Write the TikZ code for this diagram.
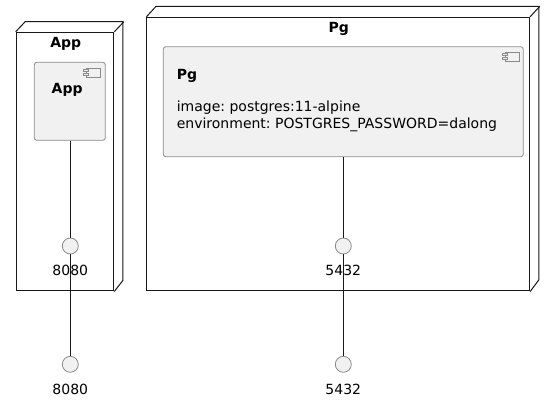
\documentclass[tikz,border=0pt]{standalone}
\usepackage{fontspec}
\setmainfont{DejaVu Sans}
\usetikzlibrary{positioning}
\definecolor{compfill}{HTML}{F1F1F1}
\definecolor{compline}{HTML}{8A8A8A}
\definecolor{darkline}{HTML}{181818}
\frenchspacing

\begin{document}
\begin{tikzpicture}[
    x=1pt, y=-1pt,
    every node/.style={inner sep=0pt, font=\fontsize{14}{16.3}\selectfont},
    devbox/.style={draw=darkline, line width=1pt},
    comp/.style={draw=compline, fill=compfill, line width=0.8pt, rounded corners=2.5pt},
    port/.style={circle, draw=compline, fill=compfill, line width=0.8pt, minimum size=16pt},
    bold/.style={font=\fontsize{14}{16.3}\selectfont\bfseries},
    link/.style={draw=darkline, line width=1pt},
    icon/.pic={ % kleines Komponenten-Symbol
        \draw[compline, fill=compfill, line width=0.6pt] (-14.3,0) rectangle (0,9);
        \draw[compline, fill=compfill, line width=0.6pt] (-17,1.7) rectangle (-12,3.7);
        \draw[compline, fill=compfill, line width=0.6pt] (-17,5.7) rectangle (-12,7.7);
    }
]
\useasboundingbox[fill=white] (0,0) rectangle (555,401);

% Knoten App
\node[devbox, minimum width=97.7pt, minimum height=258.7pt] (appnode) at (65,161.6) {};
\draw[devbox] (appnode.north west) -- ++(9.5,-10) -- ++(97.7,0) -- ++(0,258.7) -- (appnode.south east);
\draw[devbox] (appnode.north east) -- ++(9.5,-10);
\node[bold, anchor=base] (apptitle) at (65.7,47.7) {App};

\node[comp, minimum width=71pt, minimum height=78pt] (appcomp) at (69.8,101.3) {};
\pic at ([xshift=-5pt, yshift=-6pt]appcomp.north east) {icon};
\node[bold, anchor=base west] (appname) at (51.5,94) {App};

% Knoten Pg
\node[devbox, minimum width=382.7pt, minimum height=273.7pt] (pgnode) at (338.3,154.15) {};
\draw[devbox] (pgnode.north west) -- ++(9.6,-10.5) -- ++(382.7,0) -- ++(0,273.7) -- (pgnode.south east);
\draw[devbox] (pgnode.north east) -- ++(9.6,-10.5);
\node[bold, anchor=base] (pgtitle) at (338.8,32.3) {Pg};

\node[comp, minimum width=360pt, minimum height=110pt] (pgcomp) at (343.3,101.7) {};
\pic at ([xshift=-4.6pt, yshift=-5.6pt]pgcomp.north east) {icon};
\node[bold, anchor=base west] (pgname) at (176.6,80) {Pg};
\node[anchor=base west, align=left] (pgimage) at (176.6,112) {image: postgres:11-alpine};
\node[anchor=base west, align=left] (pgenv) at (176.6,128.3) {environment: POSTGRES\_PASSWORD=dalong};

% Ports
\node[port] (appport) at (70.3,246) {};
\node[anchor=base] (appportlbl) at (70.3,276) {8080};
\node[port] (appext) at (70.3,364.3) {};
\node[anchor=base] (appextlbl) at (70.3,394.3) {8080};

\node[port] (pgport) at (343.3,246) {};
\node[anchor=base] (pgportlbl) at (343.3,276) {5432};
\node[port] (pgext) at (343.3,364.3) {};
\node[anchor=base] (pgextlbl) at (343.3,394.3) {5432};

% Verbindungen
\draw[link] (appcomp.south -| appport) -- (appport);
\draw[link] (appport) -- (appext);
\draw[link] (pgcomp.south -| pgport) -- (pgport);
\draw[link] (pgport) -- (pgext);

\end{tikzpicture}
\end{document}
